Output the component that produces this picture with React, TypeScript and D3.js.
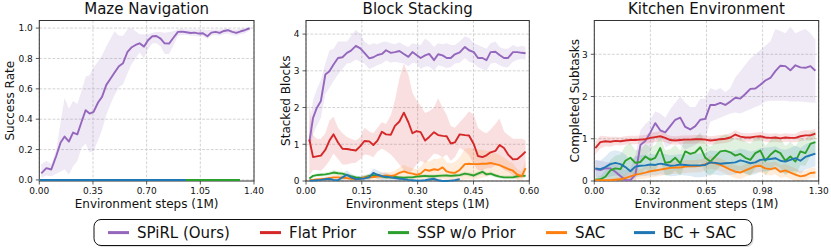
import React from 'react';
import * as d3 from 'd3';

// ---------- colours / legend ----------
const legendLabels = ['SPiRL (Ours)', 'Flat Prior', 'SSP w/o Prior', 'SAC', 'BC + SAC'];
const legendColors = ['#9467bd', '#d62728', '#2ca02c', '#ff7f0e', '#1f77b4'];
const legendX = [108, 260, 388, 546, 634];

// ---------- Maze Navigation ----------
const mazeSteps = [0.013, 0.046, 0.078, 0.111, 0.139, 0.165, 0.193, 0.22, 0.248, 0.274, 0.302, 0.328, 0.354, 0.383, 0.409, 0.437, 0.465, 0.491, 0.519, 0.546, 0.574, 0.6, 0.628, 0.654, 0.683, 0.709, 0.737, 0.763, 0.791, 0.817, 0.846, 0.872, 0.904, 0.93, 0.959, 0.987, 1.013, 1.041, 1.067, 1.096, 1.122, 1.15, 1.176, 1.204, 1.23, 1.259, 1.285, 1.313, 1.339, 1.372];
const mazeSpirl = [0.043, 0.078, 0.069, 0.159, 0.247, 0.286, 0.253, 0.312, 0.3, 0.378, 0.459, 0.437, 0.448, 0.51, 0.547, 0.626, 0.668, 0.707, 0.749, 0.769, 0.841, 0.872, 0.889, 0.9, 0.878, 0.92, 0.946, 0.948, 0.931, 0.9, 0.898, 0.933, 0.975, 0.977, 0.973, 0.968, 0.97, 0.964, 0.966, 0.946, 0.97, 0.975, 0.968, 0.981, 0.986, 0.975, 0.968, 0.979, 0.986, 0.999];
const mazeSpirlHi = [0.104, 0.126, 0.104, 0.2, 0.38, 0.54, 0.47, 0.52, 0.5, 0.58, 0.68, 0.69, 0.74, 0.78, 0.82, 0.88, 0.93, 0.98, 0.95, 0.95, 0.99, 1.0, 0.98, 0.96, 0.96, 0.96, 0.97, 0.975, 0.975, 0.97, 0.975, 0.98, 0.99, 0.995, 0.99, 0.99, 0.99, 0.99, 0.99, 0.985, 0.99, 0.99, 0.99, 0.995, 0.995, 0.99, 0.99, 0.995, 0.998, 1.0];
const mazeSpirlLo = [0.016, 0.03, 0.025, 0.04, 0.055, 0.07, 0.035, 0.09, 0.125, 0.21, 0.24, 0.18, 0.19, 0.26, 0.33, 0.43, 0.5, 0.56, 0.61, 0.63, 0.7, 0.76, 0.8, 0.84, 0.8, 0.86, 0.9, 0.9, 0.88, 0.83, 0.83, 0.88, 0.95, 0.955, 0.955, 0.95, 0.95, 0.945, 0.945, 0.93, 0.95, 0.955, 0.95, 0.96, 0.965, 0.955, 0.95, 0.96, 0.965, 0.985];
const mazeFlatSteps = [0.0, 0.65, 1.3];
const mazeFlat = [0, 0, 0];
const mazeSspSteps = [0.0, 0.66, 1.309];
const mazeSsp = [0, 0, 0];
const mazeSacSteps = [0.0, 0.45, 0.9];
const mazeSac = [0, 0, 0];
const mazeBcSteps = [0.0, 0.48, 0.955];
const mazeBc = [0, 0, 0];

// ---------- Block Stacking ----------
const blockSteps = [0.009, 0.019, 0.029, 0.04, 0.052, 0.063, 0.074, 0.086, 0.098, 0.11, 0.121, 0.134, 0.146, 0.157, 0.17, 0.181, 0.192, 0.204, 0.215, 0.228, 0.239, 0.251, 0.263, 0.275, 0.286, 0.297, 0.308, 0.32, 0.331, 0.344, 0.355, 0.367, 0.378, 0.389, 0.4, 0.413, 0.427, 0.438, 0.451, 0.462, 0.474, 0.485, 0.496, 0.509, 0.52, 0.532, 0.543, 0.556, 0.568, 0.58, 0.59];
const blockSpirl = [1.07, 1.72, 1.99, 2.18, 2.9, 2.99, 3.17, 3.35, 3.37, 3.49, 3.55, 3.68, 3.61, 3.49, 3.34, 3.37, 3.43, 3.46, 3.56, 3.49, 3.51, 3.54, 3.46, 3.38, 3.51, 3.43, 3.35, 3.42, 3.46, 3.29, 3.45, 3.42, 3.35, 3.35, 3.45, 3.5, 3.65, 3.56, 3.51, 3.35, 3.35, 3.29, 3.51, 3.52, 3.43, 3.35, 3.35, 3.51, 3.51, 3.49, 3.48];
const blockSpirlHi = [1.5, 2.2, 2.5, 2.75, 3.2, 3.55, 3.6, 3.8, 3.8, 3.8, 3.95, 4.12, 4.0, 3.8, 3.7, 3.75, 3.72, 3.78, 3.8, 3.75, 3.72, 3.78, 3.7, 3.65, 3.75, 3.72, 3.7, 3.88, 3.8, 3.65, 3.75, 3.72, 3.75, 3.7, 3.7, 3.8, 3.94, 3.9, 3.75, 3.7, 3.65, 3.6, 3.75, 3.8, 3.65, 3.6, 3.6, 3.7, 3.65, 3.68, 3.65];
const blockSpirlLo = [0.8, 1.27, 1.5, 1.72, 2.36, 2.54, 2.72, 2.9, 3.05, 3.2, 3.22, 3.31, 3.25, 3.2, 3.05, 3.1, 3.15, 3.2, 3.28, 3.22, 3.25, 3.22, 3.2, 3.12, 3.22, 3.2, 3.05, 3.12, 3.12, 3.0, 3.15, 3.12, 3.08, 3.1, 3.2, 3.22, 3.35, 3.25, 3.2, 3.1, 3.05, 3.0, 3.2, 3.22, 3.15, 3.1, 3.1, 3.25, 3.3, 3.32, 3.3];
const blockFlat = [1.13, 0.65, 0.67, 0.69, 0.85, 1.1, 1.27, 1.05, 0.88, 0.87, 0.85, 0.83, 0.95, 1.09, 1.08, 0.98, 1.1, 1.34, 1.27, 1.26, 1.5, 1.62, 1.86, 1.6, 1.3, 1.36, 1.33, 1.1, 1.2, 1.33, 1.25, 1.23, 1.22, 1.02, 1.05, 1.27, 1.25, 1.24, 1.0, 0.68, 0.65, 0.7, 0.78, 0.82, 0.98, 0.9, 0.72, 0.59, 0.6, 0.7, 0.8];
const blockFlatHi = [2.15, 1.25, 1.15, 1.15, 1.3, 1.65, 1.75, 1.45, 1.3, 1.2, 1.15, 1.1, 1.2, 1.45, 1.35, 1.3, 1.45, 1.6, 1.55, 1.8, 2.2, 2.8, 3.2, 2.9, 2.4, 2.2, 2.05, 1.85, 1.9, 2.0, 2.25, 2.0, 1.8, 1.5, 1.45, 1.6, 1.75, 1.9, 1.8, 1.45, 1.35, 1.3, 1.4, 1.55, 1.7, 1.35, 1.25, 1.15, 1.15, 1.15, 1.1];
const blockFlatLo = [0.15, 0.3, 0.3, 0.28, 0.4, 0.55, 0.75, 0.6, 0.45, 0.45, 0.48, 0.5, 0.6, 0.72, 0.7, 0.65, 0.8, 0.88, 0.82, 0.72, 0.6, 0.45, 0.3, 0.2, 0.3, 0.45, 0.55, 0.5, 0.6, 0.75, 0.72, 0.65, 0.72, 0.55, 0.65, 0.9, 0.82, 0.7, 0.45, 0.3, 0.3, 0.35, 0.35, 0.42, 0.4, 0.3, 0.25, 0.15, 0.05, 0.1, 0.3];
const blockSsp = [0.07, 0.14, 0.16, 0.17, 0.18, 0.2, 0.23, 0.21, 0.2, 0.16, 0.13, 0.1, 0.08, 0.1, 0.14, 0.16, 0.15, 0.13, 0.1, 0.1, 0.11, 0.1, 0.09, 0.1, 0.1, 0.12, 0.13, 0.14, 0.13, 0.13, 0.14, 0.145, 0.15, 0.14, 0.15, 0.16, 0.2, 0.18, 0.15, 0.2, 0.25, 0.18, 0.2, 0.15, 0.12, 0.1, 0.1, 0.1, 0.13, 0.14, 0.14];
const blockSspSpread = [0.03, 0.04, 0.05, 0.05, 0.05, 0.05, 0.06, 0.06, 0.05, 0.05, 0.05, 0.05, 0.05, 0.05, 0.05, 0.06, 0.05, 0.05, 0.04, 0.04, 0.04, 0.04, 0.04, 0.04, 0.04, 0.04, 0.05, 0.05, 0.05, 0.05, 0.05, 0.05, 0.05, 0.05, 0.05, 0.05, 0.06, 0.06, 0.06, 0.06, 0.07, 0.06, 0.06, 0.05, 0.05, 0.05, 0.05, 0.05, 0.05, 0.05, 0.05];
const blockSac = [0.02, 0.03, 0.04, 0.05, 0.06, 0.08, 0.1, 0.1, 0.09, 0.08, 0.06, 0.05, 0.06, 0.1, 0.1, 0.11, 0.12, 0.13, 0.15, 0.14, 0.16, 0.22, 0.26, 0.22, 0.2, 0.17, 0.2, 0.31, 0.28, 0.32, 0.3, 0.37, 0.26, 0.23, 0.22, 0.3, 0.46, 0.47, 0.46, 0.46, 0.47, 0.47, 0.49, 0.46, 0.43, 0.38, 0.33, 0.28, 0.17, 0.13, 0.35];
const blockSacSpread = [0.03, 0.03, 0.04, 0.05, 0.05, 0.06, 0.07, 0.07, 0.06, 0.06, 0.05, 0.05, 0.05, 0.07, 0.08, 0.08, 0.09, 0.1, 0.1, 0.1, 0.12, 0.15, 0.18, 0.16, 0.15, 0.15, 0.18, 0.25, 0.25, 0.28, 0.3, 0.3, 0.25, 0.25, 0.3, 0.35, 0.42, 0.43, 0.42, 0.4, 0.38, 0.35, 0.33, 0.3, 0.28, 0.25, 0.22, 0.2, 0.15, 0.12, 0.2];
const blockBcSteps = [0.009, 0.019, 0.029, 0.04, 0.052, 0.063, 0.074, 0.086, 0.098, 0.11, 0.121, 0.134, 0.146, 0.157, 0.17, 0.181, 0.192, 0.204, 0.215, 0.228, 0.239, 0.251, 0.263, 0.275, 0.286, 0.297, 0.308, 0.32, 0.331, 0.344, 0.355, 0.367, 0.378, 0.389, 0.4, 0.413];
const blockBc = [0.01, 0.01, 0.02, 0.03, 0.05, 0.06, 0.03, 0.02, 0.1, 0.17, 0.1, 0.05, 0.06, 0.07, 0.1, 0.22, 0.17, 0.13, 0.12, 0.1, 0.08, 0.06, 0.05, 0.03, 0.02, 0.01, 0.01, 0.02, 0.04, 0.06, 0.02, 0.0, 0.0, 0.01, 0.02, 0.05];
const blockBcSpread = [0.02, 0.02, 0.03, 0.03, 0.04, 0.05, 0.04, 0.04, 0.1, 0.12, 0.1, 0.08, 0.08, 0.08, 0.1, 0.12, 0.12, 0.1, 0.1, 0.08, 0.07, 0.06, 0.05, 0.04, 0.03, 0.03, 0.03, 0.03, 0.04, 0.05, 0.03, 0.02, 0.02, 0.02, 0.03, 0.04];

// ---------- Kitchen Environment ----------
const kitchenSteps = [0.006, 0.035, 0.064, 0.093, 0.122, 0.151, 0.18, 0.209, 0.238, 0.267, 0.296, 0.325, 0.353, 0.382, 0.411, 0.44, 0.469, 0.498, 0.527, 0.556, 0.585, 0.614, 0.643, 0.672, 0.701, 0.73, 0.759, 0.788, 0.817, 0.846, 0.875, 0.904, 0.933, 0.962, 0.991, 1.02, 1.049, 1.078, 1.107, 1.136, 1.165, 1.194, 1.223, 1.252, 1.281];
const kitchenSpirl = [0.28, 0.26, 0.3, 0.3, 0.22, 0.12, 0.02, 0.02, 0.15, 0.85, 0.95, 1.15, 1.37, 1.2, 1.15, 1.3, 1.45, 1.5, 1.28, 1.22, 1.3, 1.45, 1.47, 1.8, 1.8, 1.85, 1.8, 1.88, 1.97, 1.95, 2.06, 2.18, 2.19, 2.28, 2.38, 2.44, 2.6, 2.73, 2.72, 2.62, 2.74, 2.69, 2.68, 2.72, 2.61];
const kitchenSpirlHi = [0.5, 0.48, 0.45, 0.45, 0.4, 0.35, 0.25, 0.3, 0.6, 1.2, 1.35, 1.45, 1.65, 1.6, 1.5, 1.7, 1.85, 2.0, 1.85, 1.75, 1.75, 1.95, 1.95, 2.2, 2.15, 2.2, 2.1, 2.2, 2.45, 2.6, 2.75, 2.9, 3.0, 3.1, 3.2, 3.3, 3.6, 3.55, 3.5, 3.65, 3.5, 3.55, 3.6, 3.5, 3.35];
const kitchenSpirlLo = [0.05, 0.05, 0.05, 0.0, 0.0, 0.0, 0.0, 0.0, 0.0, 0.5, 0.6, 0.7, 1.0, 1.15, 0.8, 0.85, 1.0, 0.85, 0.75, 0.8, 0.85, 0.95, 1.0, 1.4, 1.45, 1.5, 1.55, 1.6, 1.62, 1.6, 1.65, 1.7, 1.75, 1.8, 1.88, 1.9, 1.9, 1.9, 1.9, 1.88, 1.88, 1.88, 1.87, 1.86, 1.85];
const kitchenFlat = [0.78, 0.92, 0.94, 0.93, 0.95, 0.94, 0.96, 0.97, 0.97, 0.98, 0.99, 1.02, 1.04, 1.06, 1.02, 0.97, 0.96, 0.97, 0.98, 0.98, 0.99, 0.99, 0.98, 0.96, 0.97, 0.99, 1.0, 1.03, 1.1, 1.05, 1.03, 1.03, 1.05, 1.06, 1.03, 1.02, 1.03, 1.01, 1.03, 1.02, 1.02, 1.06, 1.08, 1.08, 1.12];
const kitchenFlatSpread = [0.15, 0.15, 0.12, 0.12, 0.1, 0.1, 0.1, 0.1, 0.1, 0.1, 0.1, 0.12, 0.12, 0.12, 0.1, 0.1, 0.1, 0.1, 0.1, 0.1, 0.1, 0.1, 0.1, 0.1, 0.1, 0.1, 0.1, 0.1, 0.1, 0.1, 0.1, 0.1, 0.1, 0.1, 0.1, 0.1, 0.1, 0.1, 0.1, 0.1, 0.1, 0.12, 0.12, 0.12, 0.12];
const kitchenSsp = [0.03, 0.04, 0.1, 0.25, 0.3, 0.28, 0.48, 0.55, 0.43, 0.45, 0.58, 0.5, 0.55, 0.78, 0.43, 0.45, 0.55, 0.42, 0.7, 0.64, 0.68, 0.8, 0.55, 0.46, 0.58, 0.7, 0.72, 0.68, 0.6, 0.64, 0.55, 0.5, 0.66, 0.72, 0.48, 0.62, 0.72, 0.66, 0.48, 0.58, 0.46, 0.7, 0.66, 0.88, 0.92];
const kitchenSspSpread = [0.05, 0.08, 0.15, 0.25, 0.3, 0.35, 0.35, 0.35, 0.3, 0.3, 0.3, 0.3, 0.3, 0.3, 0.3, 0.3, 0.3, 0.3, 0.32, 0.32, 0.35, 0.35, 0.35, 0.35, 0.35, 0.35, 0.38, 0.38, 0.38, 0.38, 0.38, 0.38, 0.35, 0.35, 0.35, 0.35, 0.35, 0.35, 0.35, 0.35, 0.35, 0.33, 0.3, 0.28, 0.25];
const kitchenSac = [0.02, 0.02, 0.02, 0.02, 0.03, 0.04, 0.07, 0.11, 0.15, 0.17, 0.2, 0.23, 0.25, 0.27, 0.29, 0.31, 0.32, 0.32, 0.34, 0.35, 0.35, 0.36, 0.4, 0.44, 0.42, 0.38, 0.33, 0.27, 0.22, 0.2, 0.25, 0.3, 0.35, 0.36, 0.3, 0.28, 0.31, 0.22, 0.25, 0.2, 0.15, 0.11, 0.13, 0.19, 0.2];
const kitchenSacSpread = [0.02, 0.02, 0.03, 0.04, 0.05, 0.06, 0.08, 0.1, 0.12, 0.12, 0.14, 0.15, 0.15, 0.15, 0.15, 0.15, 0.15, 0.15, 0.15, 0.15, 0.15, 0.15, 0.15, 0.15, 0.15, 0.15, 0.15, 0.15, 0.15, 0.15, 0.15, 0.15, 0.15, 0.15, 0.15, 0.15, 0.15, 0.15, 0.15, 0.15, 0.15, 0.12, 0.12, 0.12, 0.12];
const kitchenBc = [0.3, 0.28, 0.33, 0.4, 0.43, 0.4, 0.33, 0.23, 0.34, 0.36, 0.37, 0.39, 0.38, 0.41, 0.39, 0.36, 0.37, 0.39, 0.38, 0.37, 0.37, 0.37, 0.38, 0.44, 0.43, 0.41, 0.42, 0.43, 0.44, 0.49, 0.46, 0.42, 0.44, 0.5, 0.51, 0.52, 0.54, 0.48, 0.46, 0.5, 0.54, 0.48, 0.57, 0.61, 0.65];
const kitchenBcSpread = [0.2, 0.2, 0.25, 0.3, 0.3, 0.3, 0.3, 0.25, 0.25, 0.25, 0.25, 0.25, 0.25, 0.25, 0.25, 0.25, 0.25, 0.25, 0.25, 0.25, 0.28, 0.28, 0.28, 0.28, 0.28, 0.28, 0.28, 0.28, 0.28, 0.28, 0.28, 0.28, 0.28, 0.28, 0.28, 0.28, 0.28, 0.28, 0.28, 0.28, 0.3, 0.3, 0.3, 0.3, 0.3];

// ---------- axes / ticks ----------
const mazeXTicks = [0, 0.35, 0.7, 1.05, 1.4];
const mazeXTickLabels = ['0.00', '0.35', '0.70', '1.05', '1.40'];
const mazeYTicks = [0, 0.2, 0.4, 0.6, 0.8, 1.0];
const mazeYTickLabels = ['0.0', '0.2', '0.4', '0.6', '0.8', '1.0'];
const blockXTicks = [0, 0.15, 0.3, 0.45, 0.6];
const blockXTickLabels = ['0.00', '0.15', '0.30', '0.45', '0.60'];
const blockYTicks = [0, 1, 2, 3, 4];
const blockYTickLabels = ['0', '1', '2', '3', '4'];
const kitchenXTicks = [0, 0.325, 0.65, 0.975, 1.3];
const kitchenXTickLabels = ['0.00', '0.32', '0.65', '0.98', '1.30'];
const kitchenYTicks = [0, 1, 2, 3];
const kitchenYTickLabels = ['0', '1', '2', '3'];

const FONT = '"DejaVu Sans", "Liberation Sans", sans-serif';
const TOP = 20.5;
const BOTTOM = 181;

type Series = {
  steps: number[];
  mean: number[];
  lo?: number[];
  hi?: number[];
  spread?: number[];
  color: string;
};

type PanelCfg = {
  id: string;
  title: string;
  ylabel: string;
  ylabelX: number;
  left: number;
  right: number;
  xDomain: [number, number];
  yDomain: [number, number];
  xTicks: number[];
  xTickLabels: string[];
  yTicks: number[];
  yTickLabels: string[];
  series: Series[];
};

const panels: PanelCfg[] = [
  {
    id: 'maze',
    title: 'Maze Navigation',
    ylabel: 'Success Rate',
    ylabelX: 14,
    left: 39.3,
    right: 254,
    xDomain: [0, 1.4],
    yDomain: [-0.007, 1.05],
    xTicks: mazeXTicks,
    xTickLabels: mazeXTickLabels,
    yTicks: mazeYTicks,
    yTickLabels: mazeYTickLabels,
    series: [
      { steps: mazeSteps, mean: mazeSpirl, lo: mazeSpirlLo, hi: mazeSpirlHi, color: legendColors[0] },
      { steps: mazeFlatSteps, mean: mazeFlat, color: legendColors[1] },
      { steps: mazeSspSteps, mean: mazeSsp, color: legendColors[2] },
      { steps: mazeSacSteps, mean: mazeSac, color: legendColors[3] },
      { steps: mazeBcSteps, mean: mazeBc, color: legendColors[4] },
    ],
  },
  {
    id: 'block',
    title: 'Block Stacking',
    ylabel: 'Stacked Blocks',
    ylabelX: 290,
    left: 306,
    right: 529.3,
    xDomain: [0, 0.6],
    yDomain: [0, 4.37],
    xTicks: blockXTicks,
    xTickLabels: blockXTickLabels,
    yTicks: blockYTicks,
    yTickLabels: blockYTickLabels,
    series: [
      { steps: blockSteps, mean: blockSpirl, lo: blockSpirlLo, hi: blockSpirlHi, color: legendColors[0] },
      { steps: blockSteps, mean: blockFlat, lo: blockFlatLo, hi: blockFlatHi, color: legendColors[1] },
      { steps: blockSteps, mean: blockSsp, spread: blockSspSpread, color: legendColors[2] },
      { steps: blockSteps, mean: blockSac, spread: blockSacSpread, color: legendColors[3] },
      { steps: blockBcSteps, mean: blockBc, spread: blockBcSpread, color: legendColors[4] },
    ],
  },
  {
    id: 'kitchen',
    title: 'Kitchen Environment',
    ylabel: 'Completed Subtasks',
    ylabelX: 579,
    left: 594.3,
    right: 818.7,
    xDomain: [0, 1.3],
    yDomain: [0, 3.8],
    xTicks: kitchenXTicks,
    xTickLabels: kitchenXTickLabels,
    yTicks: kitchenYTicks,
    yTickLabels: kitchenYTickLabels,
    series: [
      { steps: kitchenSteps, mean: kitchenSpirl, lo: kitchenSpirlLo, hi: kitchenSpirlHi, color: legendColors[0] },
      { steps: kitchenSteps, mean: kitchenFlat, spread: kitchenFlatSpread, color: legendColors[1] },
      { steps: kitchenSteps, mean: kitchenSsp, spread: kitchenSspSpread, color: legendColors[2] },
      { steps: kitchenSteps, mean: kitchenSac, spread: kitchenSacSpread, color: legendColors[3] },
      { steps: kitchenSteps, mean: kitchenBc, spread: kitchenBcSpread, color: legendColors[4] },
    ],
  },
];

function Panel({ cfg }: { cfg: PanelCfg }) {
  const x = d3.scaleLinear().domain(cfg.xDomain).range([cfg.left, cfg.right]);
  const y = d3.scaleLinear().domain(cfg.yDomain).range([BOTTOM, TOP]);
  const line = d3
    .line<[number, number]>()
    .x((d) => x(d[0]))
    .y((d) => y(d[1]));
  const area = d3
    .area<[number, number, number]>()
    .x((d) => x(d[0]))
    .y0((d) => y(d[1]))
    .y1((d) => y(d[2]));
  const cx = (cfg.left + cfg.right) / 2;
  const cy = (TOP + BOTTOM) / 2;
  const clipId = `clip-${cfg.id}`;
  const tickColor = '#333';

  const bandData = (s: Series): [number, number, number][] | null => {
    if (s.lo && s.hi) return s.steps.map((t, i) => [t, s.lo![i], s.hi![i]]);
    if (s.spread)
      return s.steps.map((t, i) => [t, Math.max(0, s.mean[i] - s.spread![i]), s.mean[i] + s.spread![i]]);
    return null;
  };

  return (
    <g>
      <defs>
        <clipPath id={clipId}>
          <rect x={cfg.left} y={TOP} width={cfg.right - cfg.left} height={BOTTOM - TOP} />
        </clipPath>
      </defs>
      <rect x={cfg.left} y={TOP} width={cfg.right - cfg.left} height={BOTTOM - TOP} fill="#fff" />
      {/* grid */}
      {cfg.xTicks.map((t, i) => (
        <line key={`gx${i}`} x1={x(t)} x2={x(t)} y1={TOP} y2={BOTTOM} stroke="#c8c8c8" strokeWidth={0.8} strokeDasharray="2.8,1.6" />
      ))}
      {cfg.yTicks.map((t, i) => (
        <line key={`gy${i}`} x1={cfg.left} x2={cfg.right} y1={y(t)} y2={y(t)} stroke="#c8c8c8" strokeWidth={0.8} strokeDasharray="2.8,1.6" />
      ))}
      {/* bands */}
      {cfg.series.map((s, i) => {
        const bd = bandData(s);
        return bd ? (
          <path key={`b${i}`} d={area(bd) || ''} fill={s.color} fillOpacity={0.15} stroke="none" clipPath={`url(#${clipId})`} />
        ) : null;
      })}
      {/* spines */}
      <rect x={cfg.left} y={TOP} width={cfg.right - cfg.left} height={BOTTOM - TOP} fill="none" stroke={tickColor} strokeWidth={1} />
      {/* mean lines */}
      {cfg.series.map((s, i) => (
        <path
          key={`l${i}`}
          d={line(s.steps.map((t, j) => [t, s.mean[j]] as [number, number])) || ''}
          fill="none"
          stroke={s.color}
          strokeWidth={1.9}
          strokeLinejoin="round"
        />
      ))}
      {/* ticks */}
      {cfg.xTicks.map((t, i) => (
        <g key={`tx${i}`}>
          <line x1={x(t)} x2={x(t)} y1={BOTTOM} y2={BOTTOM + 3.5} stroke={tickColor} strokeWidth={0.8} />
          <text x={x(t)} y={BOTTOM + 13} fontSize={9} textAnchor="middle" fill="#111" fontFamily={FONT}>
            {cfg.xTickLabels[i]}
          </text>
        </g>
      ))}
      {cfg.yTicks.map((t, i) => (
        <g key={`ty${i}`}>
          <line x1={cfg.left - 3.5} x2={cfg.left} y1={y(t)} y2={y(t)} stroke={tickColor} strokeWidth={0.8} />
          <text x={cfg.left - 6.5} y={y(t) + 3.3} fontSize={9} textAnchor="end" fill="#111" fontFamily={FONT}>
            {cfg.yTickLabels[i]}
          </text>
        </g>
      ))}
      {/* labels */}
      <text x={cx} y={14} fontSize={15} textAnchor="middle" fill="#111" fontFamily={FONT}>
        {cfg.title}
      </text>
      <text x={cx} y={208} fontSize={12} textAnchor="middle" fill="#111" fontFamily={FONT}>
        Environment steps (1M)
      </text>
      <text
        transform={`translate(${cfg.ylabelX},${cy}) rotate(-90)`}
        fontSize={12}
        textAnchor="middle"
        fill="#111"
        fontFamily={FONT}
      >
        {cfg.ylabel}
      </text>
    </g>
  );
}

function Legend() {
  return (
    <g>
      <rect x={95.5} y={221} width={658} height={26} rx={7} ry={7} fill="#bbb" opacity={0.5} />
      <rect x={94} y={219.5} width={658} height={26} rx={7} ry={7} fill="#fff" stroke="#111" strokeWidth={1} />
      {legendLabels.map((lab, i) => (
        <g key={lab}>
          <line x1={legendX[i]} x2={legendX[i] + 21} y1={232.6} y2={232.6} stroke={legendColors[i]} strokeWidth={3} />
          <text x={legendX[i] + 29} y={238} fontSize={15} fill="#111" fontFamily={FONT}>
            {lab}
          </text>
        </g>
      ))}
    </g>
  );
}

export default function App() {
  return (
    <svg
      width={831}
      height={252}
      viewBox="0 0 831 252"
      style={{ position: 'absolute', left: 0, top: 0, background: '#fff' }}
    >
      <rect x={0} y={0} width={831} height={252} fill="#fff" />
      {panels.map((p) => (
        <Panel key={p.id} cfg={p} />
      ))}
      <Legend />
    </svg>
  );
}
